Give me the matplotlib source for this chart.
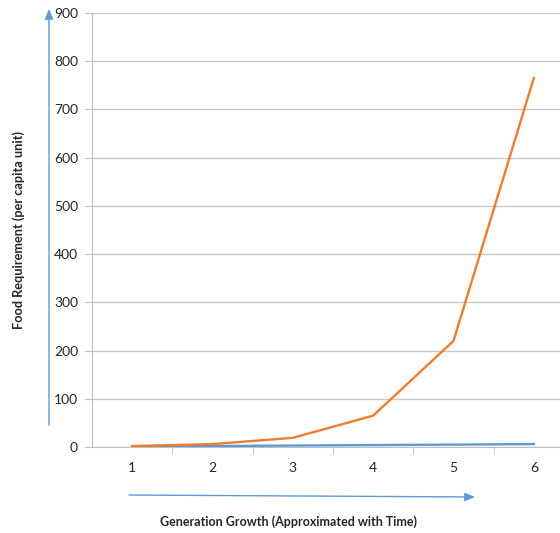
import matplotlib
matplotlib.use("Agg")
import matplotlib.pyplot as plt

# data
generations = [1, 2, 3, 4, 5, 6]
food_exponential = [2, 6, 19, 65, 220, 765]
food_linear = [1, 2, 3, 4, 5, 6]
y_ticks = [0, 100, 200, 300, 400, 500, 600, 700, 800, 900]

plt.rcParams['font.family'] = ['Lato', 'DejaVu Sans']

W, H = 560, 533
fig = plt.figure(figsize=(W / 100, H / 100), dpi=100)
ax = fig.add_axes([92 / W, (H - 447) / H, (574 - 92) / W, (447 - 13) / H])

ax.plot(generations, food_linear, color='#5B9BD5', lw=1.7, zorder=3)
ax.plot(generations, food_exponential, color='#ED7D31', lw=1.7, zorder=4)

ax.set_xlim(0.5, 6.5)
ax.set_ylim(0, 900)
ax.set_yticks(y_ticks)
ax.set_xticks(generations)
ax.set_xticks([1.5, 2.5, 3.5, 4.5, 5.5, 6.5], minor=True)
ax.tick_params(axis='x', which='major', length=0, pad=11, labelsize=10)
ax.tick_params(axis='x', which='minor', length=5, color='#BFBFBF', direction='out')
ax.tick_params(axis='y', length=5, color='#BFBFBF', pad=5, labelsize=10)
for lbl in ax.get_xticklabels() + ax.get_yticklabels():
    lbl.set_color('#262626')
ax.grid(axis='y', color='#C8C8C8', lw=1)
ax.set_axisbelow(True)
for side in ['top', 'right']:
    ax.spines[side].set_visible(False)
ax.spines['left'].set_color('#BFBFBF')
ax.spines['bottom'].set_color('#BFBFBF')

fig.text(19 / W, 1 - 230 / H, 'Food Requirement (per capita unit)', rotation=90,
         ha='center', va='center', fontsize=9.2, fontweight='bold', color='#262626')
fig.text(288 / W, 1 - 522 / H, 'Generation Growth (Approximated with Time)',
         ha='center', va='center', fontsize=9, fontweight='bold', color='#262626')

# hand-drawn style arrows
arrow = dict(arrowstyle='-|>,head_length=0.6,head_width=0.25', color='#5B9BD5', lw=1,
             shrinkA=0, shrinkB=0)
ax.annotate('', xy=(49, H - 9), xytext=(49, H - 425), xycoords='figure pixels',
            textcoords='figure pixels', arrowprops=arrow, annotation_clip=False)
ax.annotate('', xy=(475, H - 497), xytext=(129, H - 495), xycoords='figure pixels',
            textcoords='figure pixels', arrowprops=arrow, annotation_clip=False)

fig.savefig('out.png', dpi=100)
